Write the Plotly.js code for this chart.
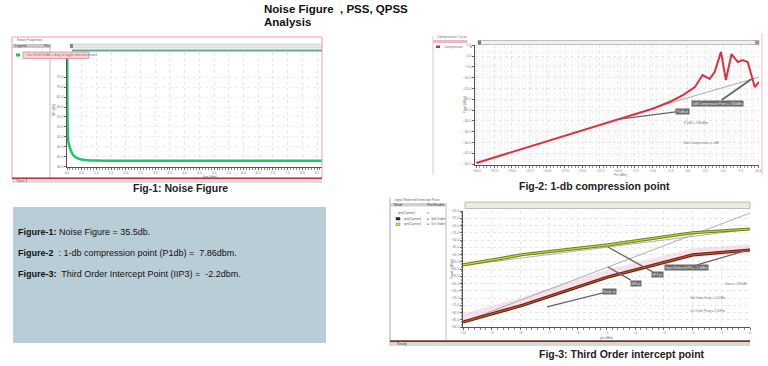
<!DOCTYPE html>
<html><head><meta charset="utf-8">
<script src="https://cdn.plot.ly/plotly-3.0.1.min.js"></script>
<style>html,body{margin:0;padding:0;background:#fff;}#chart{width:768px;height:366px;}</style>
</head><body><div id="chart"></div>
<script>
// ---------- DATA ----------
// Fig-1: Noise figure vs frequency
const nfFreq  = [0, 0.01, 0.03, 0.06, 0.1, 0.15, 0.2, 0.3, 0.45, 0.7, 1.0, 1.5, 2.0, 3.0, 4.0, 5.0, 6.0, 7.0, 8.0, 8.67];
const nfValue = [140, 70, 44.5, 41.5, 39.5, 37.5, 36.0, 34.7, 33.8, 33.3, 33.1, 33.0, 33.0, 33.0, 33.0, 33.0, 33.0, 33.0, 33.0, 33.0];
const nfYTicks = [30, 35, 40, 45, 50, 55, 60, 65, 70, 75];

// Fig-2: compression curve (input power vs output power)
const cpIn  = [-30, -25, -20, -15, -10, -5, -2.6, -0.7, 1.0, 2.1, 3.1, 3.8, 4.7, 5.4, 6.2, 7.1, 7.8, 8.5, 9.5, 10.1];
const cpOut = [-49.5, -44.5, -39.5, -34.5, -29.5, -24.4, -21.3, -18.1, -14.4, -8.8, -10.6, -7.4, 1.9, -11.1, 0.9, -2.8, -1.9, -2.8, -14.4, -12.0];
const cpExtIn  = [-3.0, 10.2];
const cpExtOut = [-22.2, -9.7];

// Fig-3: third-order intercept
const ipIn      = [-10, -7.9, -4.95, -2.0, 0];
const ipFund    = [-47.2, -40.0, -33.4, -25.0, -22.4];
const ipThird   = [-86.6, -74.8, -55.5, -40.3, -36.9];
const ipBand    = [-84.0, -72.5, -53.5, -39.0, -36.0];
const ipExtIn   = [-10, 0];
const ipExt1    = [-47.5, -22.5];
const ipExt3    = [-86.6, -11.4];

// ---------- HELPERS ----------
const W = 768, H = 366;
const px = x => x / W, py = y => 1 - y / H;
function rect(x0, y0, x1, y1, fill, line, lw) {
  return {type:'rect', xref:'paper', yref:'paper', x0:px(x0), x1:px(x1), y0:py(y1), y1:py(y0),
          fillcolor: fill || 'rgba(0,0,0,0)', line:{color: line || 'rgba(0,0,0,0)', width: lw === undefined ? (line ? 1 : 0) : lw}};
}
function hline(x0, x1, y, color, w) {
  return {type:'line', xref:'paper', yref:'paper', x0:px(x0), x1:px(x1), y0:py(y), y1:py(y), line:{color, width:w||1}};
}
function vline(x, y0, y1, color, w) {
  return {type:'line', xref:'paper', yref:'paper', x0:px(x), x1:px(x), y0:py(y0), y1:py(y1), line:{color, width:w||1}};
}
function txt(x, y, text, size, color, opts) {
  return Object.assign({xref:'paper', yref:'paper', x:px(x), y:py(y), text, showarrow:false,
    xanchor:'left', yanchor:'middle', font:{family:'Liberation Sans, Arial, sans-serif', size, color}}, opts || {});
}
const tickFont = {family:'Liberation Sans, Arial, sans-serif', size:3.4, color:'#777'};
function axisBase(extra) {
  return Object.assign({showline:true, linecolor:'#555', linewidth:1, ticks:'outside', ticklen:2, tickcolor:'#666',
    tickfont:tickFont, gridcolor:'#dcdcdc', griddash:'dot', gridwidth:0.7, zeroline:false, fixedrange:true}, extra);
}

// ---------- TRACES ----------
const traces = [
  {x:nfFreq, y:nfValue, xaxis:'x', yaxis:'y', mode:'lines', line:{color:'#1fc46a', width:2.5, shape:'spline', smoothing:0.6}},
  {x:cpExtIn, y:cpExtOut, xaxis:'x2', yaxis:'y2', mode:'lines', line:{color:'#aaaaaa', width:1}},
  {x:cpIn, y:cpOut, xaxis:'x2', yaxis:'y2', mode:'lines', line:{color:'#e0303f', width:2}},
  {x:ipIn, y:ipBand, xaxis:'x3', yaxis:'y3', mode:'lines', line:{color:'rgba(240,170,205,0.35)', width:9}},
  {x:ipExtIn, y:ipExt3, xaxis:'x3', yaxis:'y3', mode:'lines', line:{color:'#9a9a9a', width:0.8}},
  {x:ipExtIn, y:ipExt1, xaxis:'x3', yaxis:'y3', mode:'lines', line:{color:'#9a9a9a', width:0.8}},
  {x:ipIn, y:ipFund, xaxis:'x3', yaxis:'y3', mode:'lines', line:{color:'#6f7d12', width:3.2}},
  {x:ipIn, y:ipFund, xaxis:'x3', yaxis:'y3', mode:'lines', line:{color:'#c9d83c', width:1.2}},
  {x:ipIn, y:ipThird, xaxis:'x3', yaxis:'y3', mode:'lines', line:{color:'#5a2412', width:3.2}},
  {x:ipIn, y:ipThird, xaxis:'x3', yaxis:'y3', mode:'lines', line:{color:'#c8552c', width:1.2}}
];

// ---------- SHAPES ----------
const shapes = [
  // Fig-1 frame
  rect(12, 37, 322, 178, null, '#e8a4ac', 1),
  rect(12, 44, 51, 48, '#c8c8c8'),
  vline(50, 48, 178, '#bbbbbb', 1),
  rect(70, 44, 322, 48, '#e8e8e8', '#bbbbbb', 0.5),
  rect(70, 44, 73, 48, '#888888'),
  hline(72, 322, 50.5, '#5cae8e', 2),
  rect(16, 53.5, 20, 56.5, '#22c060'),
  rect(23, 52, 89, 58.5, '#f8d4d8', '#e08890', 0.8),
  rect(12, 177.5, 322, 179.3, '#b8384a'),
  rect(12, 179.6, 322, 183, '#dcdcdc'),
  // Fig-2 frame
  rect(433, 40, 467, 43, '#efb8c0'),
  vline(433, 36, 175, '#cccccc', 1),
  vline(762, 33, 175, '#f0b8c0', 1),
  rect(478, 40.5, 759, 44.5, '#f0f0f0', '#999999', 0.6),
  rect(478, 40.5, 481, 44.5, '#777777'),
  rect(755, 40.5, 759, 44.5, '#999999'),
  rect(436, 45.5, 440, 48, '#d8283a'),
  // Fig-3 frame
  vline(390, 198, 346, '#aaaaaa', 1),
  rect(390, 203, 445, 206.5, '#cfcfcf'),
  vline(446, 203, 340, '#bbbbbb', 1),
  rect(465, 202, 750, 208.5, '#eceadc', '#999999', 0.6),
  rect(396, 217.5, 400, 220, '#4a2a10', '#222', 0.5),
  rect(396, 223, 400, 225.5, '#d4e04a', '#777', 0.5),
  rect(390, 340.3, 750, 342.2, '#6b3b2b'),
  rect(390, 342.5, 750, 346, '#d8d8d8'),
  // text box
  rect(13, 207, 326, 343, '#b9cdd6')
];

// ---------- ANNOTATIONS ----------
const tiny = 3.4;
const ann = [
  // main title
  txt(262, 9, '<b>Noise Figure  , PSS, QPSS</b>', 11.5, '#111'),
  txt(262, 22, '<b>Analysis</b>', 11.5, '#111'),
  // captions
  txt(180, 188, '<b>Fig-1: Noise Figure</b>', 10.5, '#222', {xanchor:'center'}),
  txt(594, 186, '<b>Fig-2: 1-db compression point</b>', 10.5, '#222', {xanchor:'center'}),
  txt(622, 354, '<b>Fig-3: Third Order intercept point</b>', 10.5, '#222', {xanchor:'center'}),
  // text box
  txt(16, 232, '<b>Figure-1:</b> Noise Figure = 35.5db.', 9, '#111'),
  txt(16, 253, '<b>Figure-2</b>  : 1-db compression point (P1db) =  7.86dbm.', 9, '#111'),
  txt(16, 274, '<b>Figure-3:</b>  Third Order Intercept Point (IIP3) =  -2.2dbm.', 9, '#111'),
  // Fig-1 small texts
  txt(15, 40.5, 'Noise Properties', tiny, '#666'),
  txt(13, 46, 'Legend', tiny, '#444'),
  txt(42, 46, 'Plot', tiny, '#444'),
  txt(25, 55.2, 'Use Shift/Ctrl/Alt + drag to toggle selection modes', 3.2, '#777'),
  txt(14, 181.2, 'Trace 1', tiny, '#555'),
  txt(210, 176.6, 'freq (GHz)', 3, '#666', {xanchor:'center'}),
  txt(54, 110, 'NF (dB)', tiny, '#666', {xanchor:'center', textangle:-90}),
  // Fig-2 small texts
  txt(435, 37, 'Compression Curve', tiny, '#777'),
  txt(442, 46.8, 'Compression', 3.2, '#777'),
  txt(468, 46.8, '\u25a0', 3.5, '#999'),
  txt(620, 174.8, 'Pin (dBm)', 3, '#777', {xanchor:'center'}),
  txt(465, 105, 'Pout (dBm)', tiny, '#777', {xanchor:'center', textangle:-90}),
  // Fig-3 small texts
  txt(393, 199.5, 'Input Referred Intercept Point', tiny, '#666'),
  txt(392, 204.8, 'Mode', tiny, '#444'),
  txt(425, 204.8, 'Plot Enable', tiny, '#444'),
  txt(396, 213, 'ipn(Carrier)', tiny, '#555'),
  txt(402, 218.8, 'ipn(Carrier)', tiny, '#555'),
  txt(402, 224.3, 'ipn(Carrier)', tiny, '#555'),
  txt(425, 213, '\u25cf', 3.5, '#888'),
  txt(425, 218.8, '\u25cf  3rd Order', tiny, '#555'),
  txt(425, 224.3, '\u25cf  1st Order', tiny, '#555'),
  txt(395, 344.2, 'Ready', tiny, '#555'),
  txt(606, 337.5, 'pin (dBm)', 3, '#666', {xanchor:'center'}),
  txt(452, 269, 'Power (dBm)', tiny, '#666', {xanchor:'center', textangle:-90})
];

// data-anchored callouts
const calloutStyle = {showarrow:true, arrowhead:0, arrowwidth:1.3, arrowcolor:'#666', bgcolor:'#6a6a6a',
  borderpad:0.6, font:{family:'Liberation Sans, Arial, sans-serif', size:3.2, color:'#eee'}};
function callout(xr, yr, x, y, ax, ay, text, extra) {
  return Object.assign({}, calloutStyle, {xref:xr, yref:yr, axref:xr, ayref:yr, x, y, ax, ay, text}, extra || {});
}
function note(xr, yr, x, y, text) {
  return {xref:xr, yref:yr, x, y, text, showarrow:false, font:{family:'Liberation Sans, Arial, sans-serif', size:3.2, color:'#777'}};
}
ann.push(
  callout('x2', 'y2', -9.7, -29.2, -0.7, -25.5, 'P1dB pt'),
  callout('x2', 'y2', 9.06, -10.6, 4.2, -21.8, '1dB Compression Point = 7.86dBm', {arrowwidth:1.8}),
  note('x2', 'y2', 1.3, -31.0, 'P1dB = 7.86dBm'),
  note('x2', 'y2', 1.8, -40.3, 'Gain Compression = 1dB'),
  callout('x3', 'y3', -4.95, -34.8, -3.21, -54.1, 'IIP3 pt'),
  callout('x3', 'y3', -4.95, -48.6, -3.97, -59.7, 'IM3 pt'),
  callout('x3', 'y3', -0.07, -36.9, -2.2, -49.3, 'Input Referred IP3 = -2.2dBm'),
  callout('x3', 'y3', -7.07, -76.2, -4.88, -65.2, 'Fund. pt'),
  note('x3', 'y3', -0.49, -60.3, 'Gain = -23.6dB'),
  note('x3', 'y3', -1.46, -70.0, '3rd Order Freq = 2.4GHz'),
  note('x3', 'y3', -1.46, -79.0, '1st Order Freq = 2.4GHz')
);

// ---------- LAYOUT ----------
const layout = {
  width: W, height: H, margin:{l:0, r:0, t:0, b:0}, paper_bgcolor:'#ffffff', plot_bgcolor:'#ffffff',
  showlegend:false,
  xaxis: axisBase({domain:[px(67), px(322)], anchor:'y', range:[0, 8.67], tick0:0, dtick:0.5, tickformat:'.1f',
    minor:{dtick:0.1, ticklen:1.5, tickcolor:'#888', ticks:'outside'}}),
  yaxis: axisBase({domain:[py(167), py(52)], anchor:'x', range:[29.9, 87.6], tickvals:nfYTicks, tickformat:'.1f',
    gridcolor:'#e6e6e6'}),
  xaxis2: axisBase({domain:[px(475), px(759)], anchor:'y2', range:[-30.2, 10.1], tick0:-30, dtick:2.5, tickformat:'.1f',
    minor:{dtick:0.5, ticklen:1.5, tickcolor:'#999', ticks:'outside', showgrid:true, gridcolor:'#f0f0f0', griddash:'dot'}}),
  yaxis2: axisBase({domain:[py(165), py(45)], anchor:'x2', range:[-50.46, 5.09], tick0:-50, dtick:5, tickformat:'.1f',
    minor:{dtick:1, showgrid:true, gridcolor:'#f2f2f2', griddash:'dot'}}),
  xaxis3: axisBase({domain:[px(463), px(750)], anchor:'y3', range:[-10, 0], tick0:-10, dtick:1,
    minor:{dtick:0.2, ticklen:1.5, tickcolor:'#888', ticks:'outside', showgrid:true, gridcolor:'#f3f3f3', griddash:'dot'}}),
  yaxis3: axisBase({domain:[py(327), py(211)], anchor:'x3', range:[-90, -10], tick0:-90, dtick:5, tickformat:'.1f',
    minor:{dtick:1, ticklen:1.2, tickcolor:'#999', ticks:'outside'}}),
  shapes, annotations: ann
};

Plotly.newPlot('chart', traces, layout, {staticPlot:true, displayModeBar:false});
</script>
</body></html>
